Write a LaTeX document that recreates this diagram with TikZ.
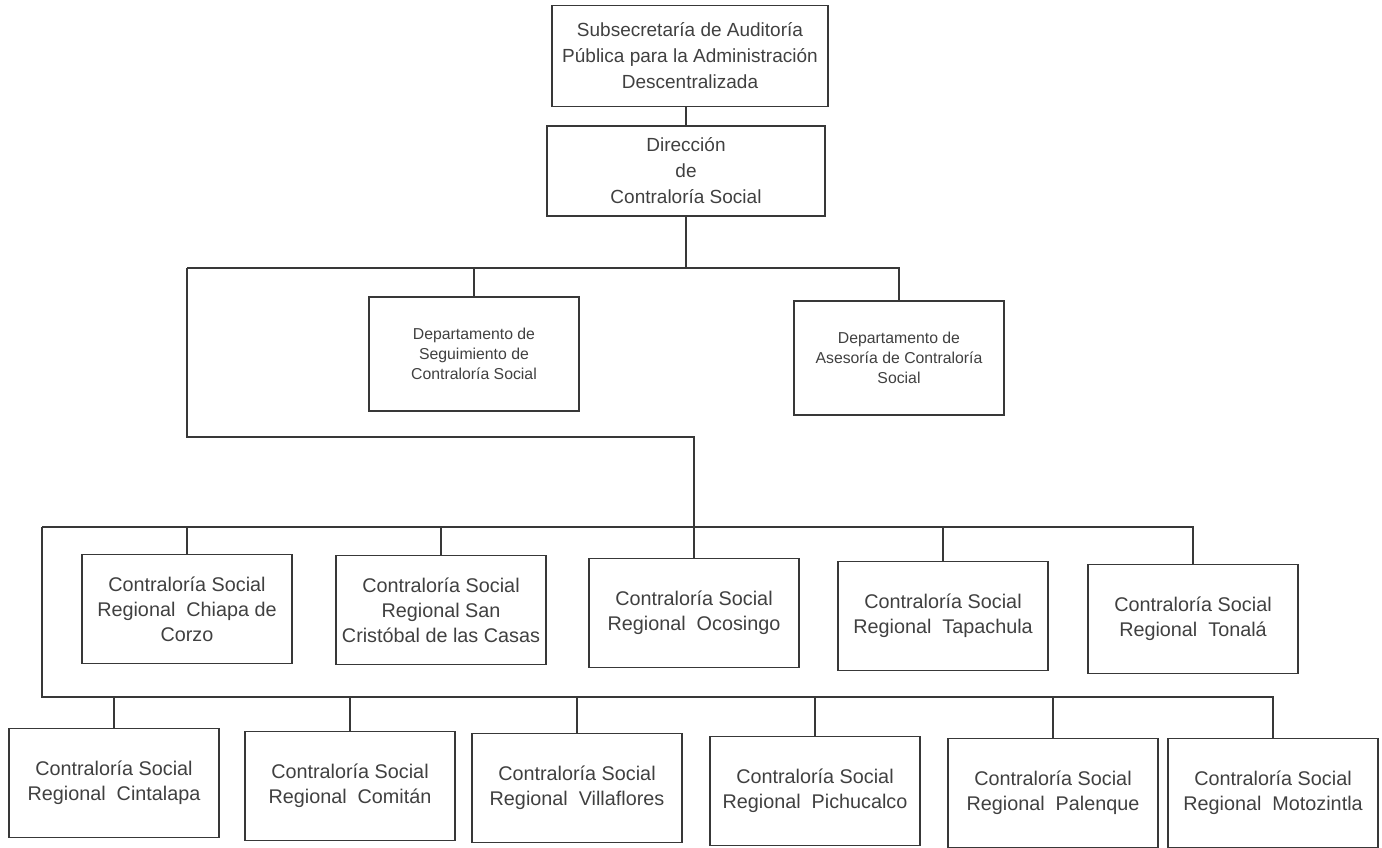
\documentclass[tikz,border=0pt]{standalone}
\usepackage{fontspec}
\setmainfont{Liberation Sans}

\definecolor{linea}{HTML}{383838}
\definecolor{texto}{HTML}{404040}

\tikzset{
    caja/.style={draw=linea, line width=0.9pt, text=texto, align=center, inner sep=0pt},
    cajasup/.style={caja, minimum width=138pt, minimum height=50.5pt, font=\fontsize{9.5}{13}\selectfont},
    cajadir/.style={caja, minimum width=139pt, minimum height=45pt, font=\fontsize{9.5}{13}\selectfont},
    cajadepto/.style={caja, minimum width=105pt, minimum height=57pt, font=\fontsize{7.9}{10}\selectfont},
    cajareg/.style={caja, minimum width=105pt, minimum height=54.5pt, font=\fontsize{9.9}{12.5}\selectfont},
    rama/.style={draw=linea, line width=0.9pt}
}

\begin{document}
\begin{tikzpicture}[x=0.5pt, y=-0.5pt]
        \useasboundingbox (0,0) rectangle (1382,847);

        % --- Nivel superior ---
        \node[cajasup] (sub) at (690,56) {Subsecretaría de Auditoría\\Pública para la Administración\\Descentralizada};
        \node[cajadir] (dir) at (686,171) {Dirección\\de\\Contraloría Social};
        \draw[rama] (dir.north |- sub.south) -- (dir.north);

        % --- Departamentos ---
        \node[cajadepto] (seg) at (474,354) {Departamento de\\Seguimiento de\\Contraloría Social};
        \node[cajadepto] (ase) at (899,358) {Departamento de\\Asesoría de Contraloría\\Social};

        \coordinate (barA) at (187,268);
        \coordinate (barB) at (187,437);
        \draw[rama] (dir.south) -- (dir.south |- barA);
        \draw[rama] (barA) -- (barA -| ase.north) -- (ase.north);
        \draw[rama] (seg.north) -- (seg.north |- barA);

        % --- Contralorías regionales (primera fila) ---
        \node[cajareg] (chi) at (187,609) {Contraloría Social\\Regional\ \ Chiapa de\\Corzo};
        \node[cajareg] (scc) at (441,610) {Contraloría Social\\Regional San\\Cristóbal de las Casas};
        \node[cajareg] (oco) at (694,613) {Contraloría Social\\Regional\ \ Ocosingo};
        \node[cajareg] (tap) at (943,616) {Contraloría Social\\Regional\ \ Tapachula};
        \node[cajareg] (ton) at (1193,619) {Contraloría Social\\Regional\ \ Tonalá};

        \coordinate (barC) at (42,527);
        \draw[rama] (barA) -- (barB) -- (barB -| oco.north) -- (oco.north);
        \draw[rama] (barC) -- (barC -| ton.north) -- (ton.north);
        \foreach \r in {chi, scc, tap}
            \draw[rama] (\r.north) -- (\r.north |- barC);

        % --- Contralorías regionales (segunda fila) ---
        \node[cajareg] (cin) at (114,783) {Contraloría Social\\Regional\ \ Cintalapa};
        \node[cajareg] (com) at (350,786) {Contraloría Social\\Regional\ \ Comitán};
        \node[cajareg] (vil) at (577,788) {Contraloría Social\\Regional\ \ Villaflores};
        \node[cajareg] (pic) at (815,791) {Contraloría Social\\Regional\ \ Pichucalco};
        \node[cajareg] (pal) at (1053,793) {Contraloría Social\\Regional\ \ Palenque};
        \node[cajareg] (mot) at (1273,793) {Contraloría Social\\Regional\ \ Motozintla};

        \coordinate (barD) at (42,697);
        \draw[rama] (barC) -- (barD) -- (barD -| mot.north) -- (mot.north);
        \foreach \r in {cin, com, vil, pic, pal}
            \draw[rama] (\r.north) -- (\r.north |- barD);
    \end{tikzpicture}
\end{document}
